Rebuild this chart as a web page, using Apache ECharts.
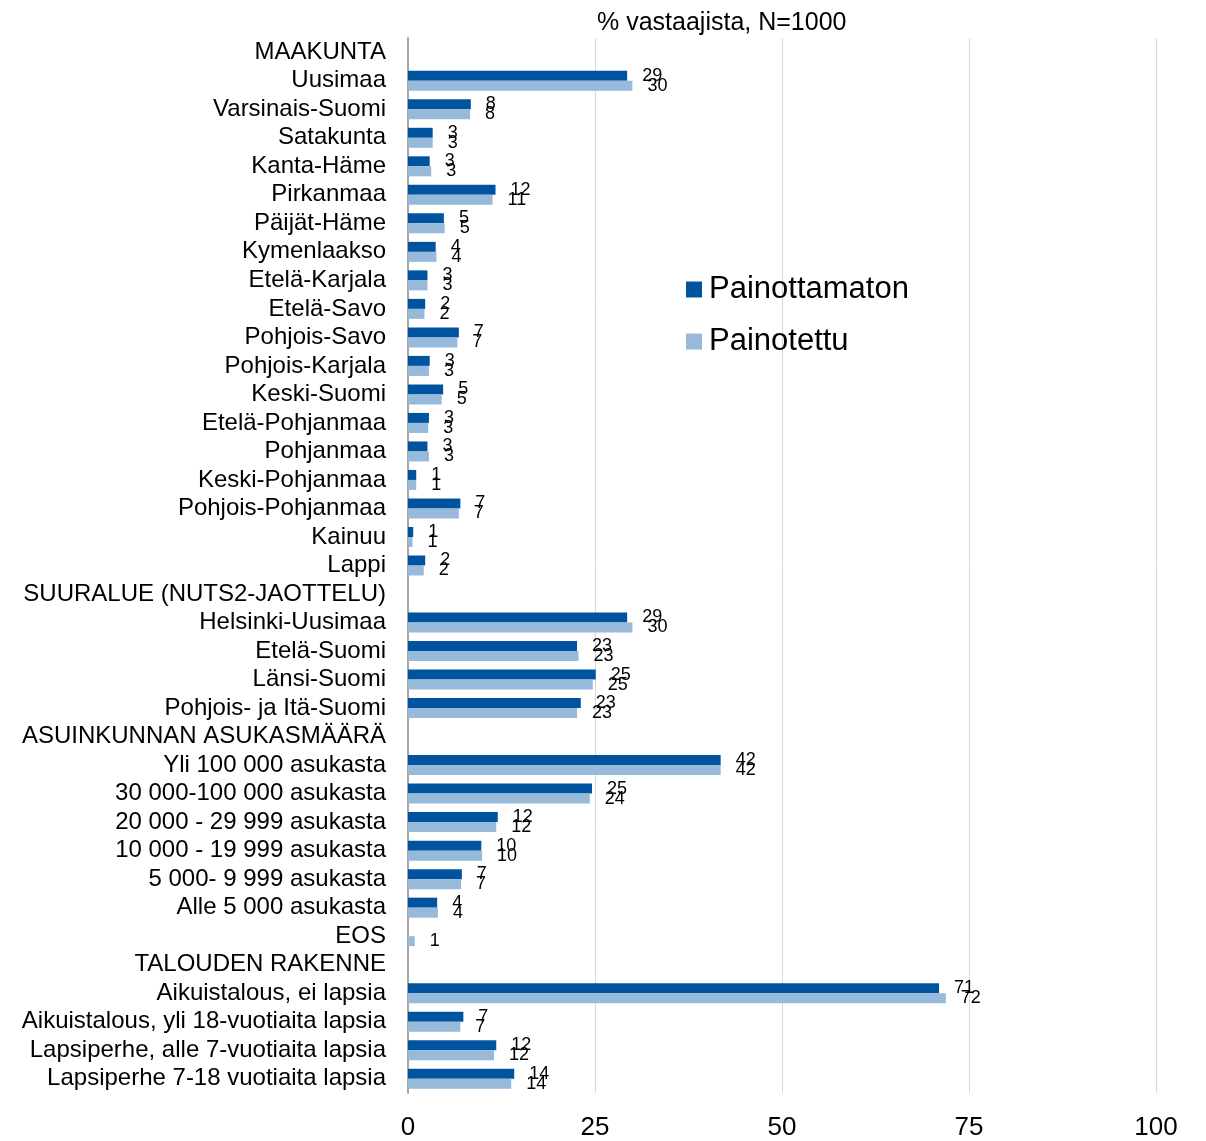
<!DOCTYPE html>
<html>
<head>
<meta charset="utf-8">
<script src="https://cdn.jsdelivr.net/npm/echarts@6/dist/echarts.min.js"></script>
<style>
html,body{margin:0;padding:0;background:#fff;}
#chart{width:1206px;height:1141px;}
</style>
</head>
<body>
<div id="chart"></div>
<script>
const categories = ['MAAKUNTA','Uusimaa','Varsinais-Suomi','Satakunta','Kanta-Häme','Pirkanmaa','Päijät-Häme','Kymenlaakso','Etelä-Karjala','Etelä-Savo','Pohjois-Savo','Pohjois-Karjala','Keski-Suomi','Etelä-Pohjanmaa','Pohjanmaa','Keski-Pohjanmaa','Pohjois-Pohjanmaa','Kainuu','Lappi','SUURALUE (NUTS2-JAOTTELU)','Helsinki-Uusimaa','Etelä-Suomi','Länsi-Suomi','Pohjois- ja Itä-Suomi','ASUINKUNNAN ASUKASMÄÄRÄ','Yli 100 000 asukasta','30 000-100 000 asukasta','20 000 - 29 999 asukasta','10 000 - 19 999 asukasta','5 000- 9 999 asukasta','Alle 5 000 asukasta','EOS','TALOUDEN RAKENNE','Aikuistalous, ei lapsia','Aikuistalous, yli 18-vuotiaita lapsia','Lapsiperhe, alle 7-vuotiaita lapsia','Lapsiperhe 7-18 vuotiaita lapsia'];

const painottamaton = [null,29.3,8.4,3.3,2.9,11.7,4.8,3.7,2.6,2.3,6.8,2.9,4.7,2.8,2.6,1.1,7.0,0.7,2.3,null,29.3,22.6,25.1,23.1,null,41.8,24.6,12.0,9.8,7.2,3.9,null,null,71.0,7.4,11.8,14.2];

const painotettu = [null,30.0,8.3,3.3,3.1,11.3,4.9,3.8,2.6,2.2,6.6,2.8,4.5,2.7,2.8,1.1,6.8,0.6,2.1,null,30.0,22.8,24.7,22.6,null,41.8,24.3,11.8,9.9,7.1,4.0,0.9,null,71.9,7.0,11.5,13.8];

const xTicks = [0, 25, 50, 75, 100];
const seriesNames = ['Painottamaton', 'Painotettu'];

const FONT = 'Liberation Sans, Arial, sans-serif';
const chart = echarts.init(document.getElementById('chart'));
const labelCfg = {
  show: true, position: 'right', distance: 15,
  fontSize: 18, color: '#000', fontFamily: FONT,
  formatter: p => (p.value == null ? '' : String(Math.round(p.value)))
};
chart.setOption({
  animation: false,
  backgroundColor: '#fff',
  title: {
    text: '% vastaajista, N=1000',
    left: 592, top: 6,
    textStyle: { fontSize: 25, fontWeight: 'normal', color: '#000', fontFamily: FONT }
  },
  legend: {
    orient: 'vertical', left: 686, top: 274,
    itemWidth: 16, itemHeight: 16, itemGap: 21, icon: 'rect',
    padding: 0,
    textStyle: { fontSize: 31, color: '#000', fontFamily: FONT, padding: [0,0,0,2] },
    data: seriesNames
  },
  grid: { left: 408, right: 50, top: 38, bottom: 43, containLabel: false },
  xAxis: {
    type: 'value', min: xTicks[0], max: xTicks[xTicks.length-1], interval: 25,
    axisLine: { show: false }, axisTick: { show: false },
    splitLine: { show: true, lineStyle: { color: '#d9d9d9', width: 1 } },
    axisLabel: { fontSize: 26, color: '#000', margin: 22, fontFamily: FONT }
  },
  yAxis: {
    type: 'category', inverse: true, data: categories,
    axisLine: { show: true, lineStyle: { color: '#a6a6a6', width: 2 } },
    axisTick: { show: false },
    axisLabel: { interval: 0, fontSize: 24, color: '#000', margin: 22, fontFamily: FONT, padding: [0,0,4,0] }
  },
  series: [
    { name: seriesNames[0], type: 'bar', data: painottamaton, barWidth: 10, barGap: '0%',
      itemStyle: { color: '#00549F' }, label: labelCfg },
    { name: seriesNames[1], type: 'bar', data: painotettu, barWidth: 10, barGap: '0%',
      itemStyle: { color: '#97B9DA' }, label: labelCfg }
  ]
});
</script>
</body>
</html>
